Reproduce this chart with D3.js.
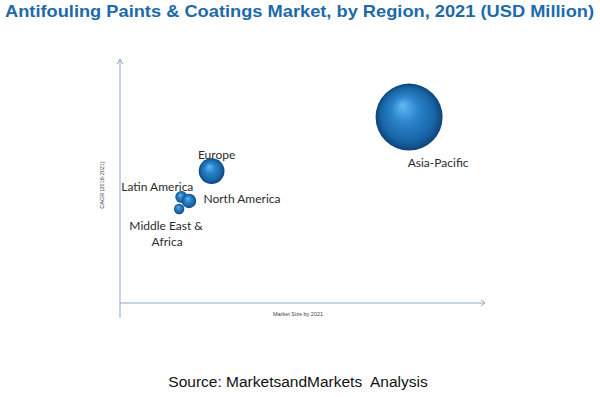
<!DOCTYPE html>
<html>
<head>
<meta charset="utf-8">
<script src="https://cdn.jsdelivr.net/npm/d3@7.9.0/dist/d3.min.js"></script>
<style>
  html, body { margin: 0; padding: 0; background: #fff; }
  svg { display: block; }
</style>
</head>
<body>
<div id="chart"></div>
<script>
// values (relative units, axes have no ticks)
const regions = ["Asia-Pacific", "Europe", "Latin America", "North America", "Middle East & Africa"];
const marketSize = [79.2, 25.1, 16.8, 18.9, 16.2];   // x position, 0-100
const cagr = [76.5, 54.3, 43.6, 42.0, 38.7];         // y position, 0-100
const bubbleValue = [1120, 165, 36, 52, 27];         // bubble area

const title = "Antifouling Paints & Coatings Market, by Region, 2021 (USD Million)";
const xTitle = "Market Size by 2021";
const yTitle = "CAGR (2016-2021)";
const source = "Source: MarketsandMarkets  Analysis";

const width = 600;
const height = 397;

const svg = d3.select("#chart")
  .append("svg")
  .attr("width", width)
  .attr("height", height);

const defs = svg.append("defs");
const grad = defs.append("radialGradient")
  .attr("id", "sphere")
  .attr("cx", "50%").attr("cy", "50%").attr("r", "50%")
  .attr("fx", "40%").attr("fy", "32%");
grad.append("stop").attr("offset", "0%").attr("stop-color", "#62b9f2");
grad.append("stop").attr("offset", "40%").attr("stop-color", "#2a84cb");
grad.append("stop").attr("offset", "80%").attr("stop-color", "#1865a6");
grad.append("stop").attr("offset", "100%").attr("stop-color", "#0d4379");

// title
svg.append("text")
  .attr("x", 5)
  .attr("y", 17)
  .attr("textLength", 589)
  .attr("lengthAdjust", "spacingAndGlyphs")
  .style("font-family", "'Liberation Sans Narrow', 'Liberation Sans', Arial, sans-serif")
  .style("font-weight", "bold")
  .style("font-size", "17px")
  .style("fill", "#1d6aa9")
  .text(title);

// scales
const xScale = d3.scaleLinear().domain([0, 100]).range([120, 485]);
const yScale = d3.scaleLinear().domain([0, 100]).range([303, 60]);
const rScale = d3.scaleSqrt().domain([0, 1120]).range([0, 33.5]);

const axisColor = "#8fa9c6";

// axes with arrowheads
const axes = svg.append("g").style("stroke", axisColor).style("fill", "none").style("stroke-width", 1);
axes.append("line")
  .attr("x1", xScale(0)).attr("x2", xScale(0))
  .attr("y1", 318).attr("y2", yScale(100) - 1);
axes.append("path")
  .attr("d", `M${xScale(0) - 3},${yScale(100) + 4} L${xScale(0)},${yScale(100) - 1} L${xScale(0) + 3},${yScale(100) + 4}`);
axes.append("line")
  .attr("x1", xScale(0)).attr("x2", xScale(100))
  .attr("y1", yScale(0)).attr("y2", yScale(0));
axes.append("path")
  .attr("d", `M${xScale(100) - 4},${yScale(0) - 3} L${xScale(100)},${yScale(0)} L${xScale(100) - 4},${yScale(0) + 3}`);

// axis titles
svg.append("text")
  .attr("transform", `translate(104, 185) rotate(-90)`)
  .attr("text-anchor", "middle")
  .style("font-family", "'Liberation Sans', Arial, sans-serif")
  .style("font-size", "5.5px")
  .style("fill", "#444")
  .text(yTitle);

svg.append("text")
  .attr("x", 298)
  .attr("y", 316)
  .attr("text-anchor", "middle")
  .style("font-family", "'Liberation Sans', Arial, sans-serif")
  .style("font-size", "5.5px")
  .style("fill", "#444")
  .text(xTitle);

// bubbles
const data = regions.map((name, i) => ({
  name,
  x: marketSize[i],
  y: cagr[i],
  v: bubbleValue[i],
}));

svg.append("g")
  .selectAll("circle")
  .data(data)
  .join("circle")
  .attr("cx", d => xScale(d.x))
  .attr("cy", d => yScale(d.y))
  .attr("r", d => rScale(d.v))
  .attr("fill", "url(#sphere)");

// labels (offsets from each bubble centre)
const labelOffsets = {
  "Asia-Pacific": [[29, 46]],
  "Europe": [[5, -16]],
  "Latin America": [[-24, -10]],
  "North America": [[53, -2]],
  "Middle East & Africa": [[-13, 17], [-12, 33]],
};
const labelLines = {
  "Middle East & Africa": ["Middle East &", "Africa"],
};

const labels = svg.append("g")
  .style("font-family", "Lato, 'Open Sans', sans-serif")
  .style("font-size", "12px")
  .style("fill", "#2b2b2b")
  .attr("text-anchor", "middle");

data.forEach(d => {
  const lines = labelLines[d.name] || [d.name];
  lines.forEach((line, j) => {
    const [dx, dy] = labelOffsets[d.name][j];
    labels.append("text")
      .attr("x", xScale(d.x) + dx)
      .attr("y", yScale(d.y) + dy)
      .attr("dy", "0.35em")
      .text(line);
  });
});

// source
svg.append("text")
  .attr("x", 298)
  .attr("y", 387)
  .attr("text-anchor", "middle")
  .attr("xml:space", "preserve")
  .style("white-space", "pre")
  .style("font-family", "'Liberation Sans', Arial, sans-serif")
  .style("font-size", "15.5px")
  .style("fill", "#111")
  .text(source);
</script>
</body>
</html>
